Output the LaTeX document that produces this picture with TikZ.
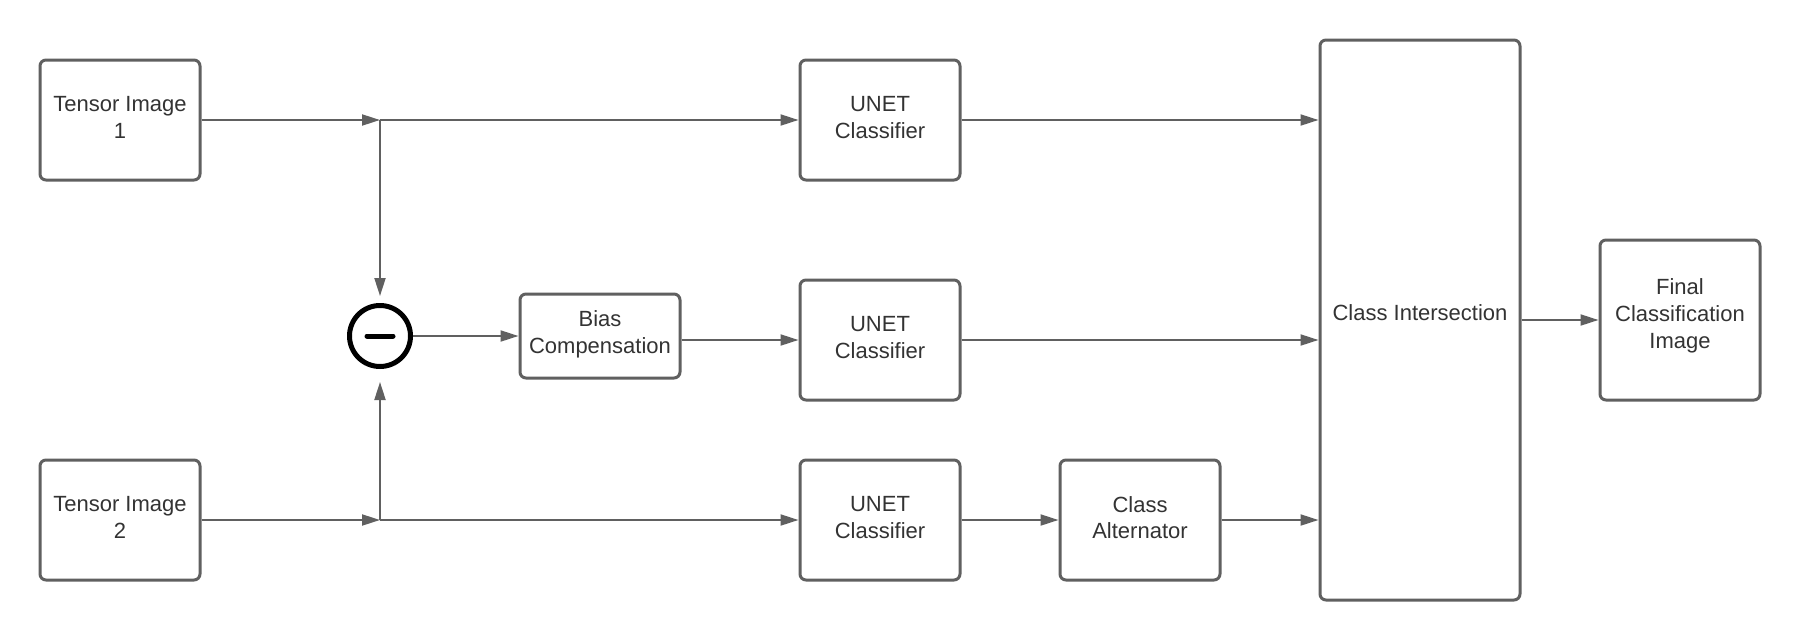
\documentclass[tikz,border=0pt]{standalone}
\usepackage{fontspec}
\setmainfont{Liberation Sans}
\usetikzlibrary{arrows.meta}
\definecolor{linegray}{HTML}{606060}
\definecolor{textgray}{HTML}{333333}
\begin{document}
\begin{tikzpicture}[x=1pt,y=-1pt,
  box/.style={draw=linegray, line width=3pt, rounded corners=6pt, fill=white,
    inner sep=0pt, minimum width=160pt, minimum height=120pt},
  txt/.style={text=textgray, align=center, inner sep=0pt,
    font=\fontsize{22}{26.7}\selectfont},
  arr/.style={draw=linegray, line width=2pt,
    -{Triangle[length=18pt,width=11pt]}}]
\useasboundingbox (0,0) rectangle (1800,640);
\fill[white] (0,0) rectangle (1800,640);

\node[box] (t1) at (120,120) {};
\node[box] (t2) at (120,520) {};
\node[box] (u1) at (880,120) {};
\node[box] (u2) at (880,340) {};
\node[box] (u3) at (880,520) {};
\node[box, minimum height=84pt] (bias) at (600,336) {};
\node[box] (alt) at (1140,520) {};
\node[box, minimum width=200pt, minimum height=560pt] (ci) at (1420,320) {};
\node[box, minimum height=160pt] (fin) at (1680,320) {};

\node[txt] (t1t) at ([yshift=2.5pt]t1.center) {Tensor Image\\1};
\node[txt] (t2t) at ([yshift=2.5pt]t2.center) {Tensor Image\\2};
\node[txt] (u1t) at ([yshift=2.5pt]u1.center) {UNET\\Classifier};
\node[txt] (u2t) at ([yshift=2.5pt]u2.center) {UNET\\Classifier};
\node[txt] (u3t) at ([yshift=2.5pt]u3.center) {UNET\\Classifier};
\node[txt] (biast) at ([yshift=2pt]bias.center) {Bias\\Compensation};
\node[txt] (altt) at ([yshift=2.5pt]alt.center) {Class\\Alternator};
\node[txt] (cit) at ([yshift=7pt]ci.center) {Class Intersection};
\node[txt] (fint) at ([yshift=4pt]fin.center) {Final\\Classification\\Image};

\node[draw=black, line width=5pt, circle, minimum size=61pt, inner sep=0pt] (sub) at (380,336) {};
\draw[black, line width=5pt, line cap=round] ([xshift=-13pt]sub.center) -- ([xshift=13pt]sub.center);

\coordinate (j1) at (380,120);
\coordinate (j2) at (380,520);

\draw[arr] (t1.east) -- (j1);
\draw[arr] (j1) -- (u1.west);
\draw[arr, shorten >=7pt] (j1) -- (sub.north);
\draw[arr] (t2.east) -- (j2);
\draw[arr] (j2) -- (u3.west);
\draw[arr, shorten >=13pt] (j2) -- (sub.south);
\draw[arr] (sub.east) -- (bias.west);
\draw[arr] (bias.east |- u2.west) -- (u2.west);
\draw[arr] (u1.east) -- (u1.east -| ci.west);
\draw[arr] (u2.east) -- (u2.east -| ci.west);
\draw[arr] (u3.east) -- (alt.west);
\draw[arr] (alt.east) -- (alt.east -| ci.west);
\draw[arr] (ci.east |- fin.west) -- (fin.west);
\end{tikzpicture}
\end{document}
